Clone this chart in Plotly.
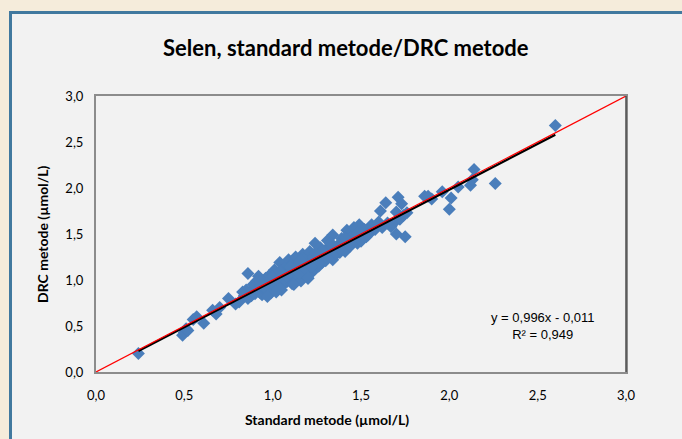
import plotly.graph_objects as go

# ---- data ----
standard = [
    0.24, 0.49, 0.50, 0.51, 0.52, 0.55, 0.57, 0.61, 0.66, 0.70, 0.68, 0.75, 0.79, 0.81,
    0.83, 0.85, 0.86, 0.88, 0.90, 0.92, 0.93, 0.84, 0.86, 0.88,
    0.87, 0.89, 0.90, 0.91, 0.92, 0.93, 0.94, 0.95, 0.95, 0.96, 0.97, 0.97, 0.98, 0.98,
    0.99, 1.00, 1.00, 1.01, 1.01, 1.02, 1.02, 1.03, 1.03, 1.04, 1.04, 1.05, 1.05, 1.06,
    1.06, 1.07, 1.07, 1.08, 1.08, 1.09, 1.09, 1.10, 1.10, 1.11, 1.11, 1.12, 1.12, 1.13,
    1.13, 1.14, 1.14, 1.15, 1.15, 1.16, 1.16, 1.17, 1.17, 1.18, 1.18, 1.19, 1.19, 1.20,
    1.20, 1.21, 1.21, 1.22, 1.22, 1.23, 1.23, 1.24, 1.24, 1.25, 1.25, 1.26, 1.27, 1.27,
    1.28, 1.29, 1.30, 1.30, 1.31, 1.32, 1.33, 1.34, 1.34, 1.35, 1.36, 1.37, 1.38, 1.38,
    1.39, 1.40, 1.41, 1.42, 1.43, 1.44, 1.45, 1.46, 1.47, 1.48, 1.49, 1.50, 1.51, 1.52,
    1.53, 1.55, 1.56, 1.58, 1.60, 1.61, 1.62, 1.64, 1.65, 1.67, 1.68, 1.70, 1.70, 1.71,
    1.72, 1.73, 1.74, 1.75, 1.76, 1.86, 1.88, 1.90, 1.96, 2.00, 2.01, 2.05, 2.12, 2.13,
    2.14, 2.26, 2.60,
    1.05, 1.12, 0.97, 1.02, 1.20, 0.93, 0.99, 1.08, 1.15, 1.26, 1.31, 1.18, 1.36, 1.00,
    1.28, 1.33, 1.41, 1.45, 1.24, 1.10, 0.95, 1.04, 1.16, 1.22, 1.38, 1.50, 1.54, 1.48,
]
drc = [
    0.20, 0.40, 0.43, 0.47, 0.45, 0.57, 0.60, 0.53, 0.67, 0.70, 0.63, 0.80, 0.74, 0.76,
    0.87, 0.89, 1.07, 0.83, 0.92, 1.04, 0.86, 0.83, 0.80, 0.86,
    0.82, 0.95, 0.85, 0.99, 0.88, 0.94, 0.84, 0.97, 0.90, 1.02, 0.88, 0.95, 1.05, 0.92,
    0.86, 0.98, 1.08, 0.93, 1.11, 0.99, 1.03, 0.90, 1.06, 0.97, 1.19, 1.01, 1.10, 0.95,
    1.04, 1.13, 1.00, 1.07, 0.98, 1.15, 1.22, 1.02, 1.09, 1.18, 0.96, 1.05, 1.12, 1.00,
    1.25, 1.08, 1.16, 1.03, 1.20, 1.11, 0.99, 1.14, 1.28, 1.06, 1.19, 1.24, 1.10, 1.02,
    1.16, 1.31, 1.13, 1.20, 1.08, 1.25, 1.17, 1.40, 1.12, 1.22, 1.29, 1.15, 1.24, 1.35,
    1.19, 1.27, 1.21, 1.33, 1.43, 1.26, 1.30, 1.49, 1.22, 1.36, 1.28, 1.33, 1.40, 1.30,
    1.45, 1.36, 1.31, 1.54, 1.41, 1.37, 1.47, 1.57, 1.43, 1.40, 1.60, 1.50, 1.45, 1.55,
    1.47, 1.52, 1.60, 1.55, 1.63, 1.75, 1.57, 1.84, 1.62, 1.58, 1.61, 1.50, 1.74, 1.90,
    1.66, 1.83, 1.70, 1.47, 1.73, 1.91, 1.91, 1.88, 1.96, 1.77, 1.89, 2.01, 2.03, 2.09,
    2.20, 2.05, 2.68,
    0.89, 0.95, 0.82, 0.87, 1.02, 0.98, 1.01, 1.04, 1.07, 1.18, 1.24, 1.13, 1.29, 1.04,
    1.32, 1.40, 1.46, 1.39, 1.29, 1.14, 0.93, 1.09, 1.22, 1.15, 1.34, 1.42, 1.49, 1.52,
]

slope = 0.996
intercept = -0.011

tick_vals = [0.0, 0.5, 1.0, 1.5, 2.0, 2.5, 3.0]
tick_text = ["0,0", "0,5", "1,0", "1,5", "2,0", "2,5", "3,0"]

title_text = "Selen, standard metode/DRC metode"
x_title = "Standard metode (µmol/L)"
y_title = "DRC metode (µmol/L)"
eq_text = "y = 0,996x - 0,011<br>R² = 0,949"

x_min, x_max = min(standard), max(standard)

fig = go.Figure()

fig.add_trace(go.Scatter(
    x=standard, y=drc, mode="markers",
    marker=dict(symbol="diamond", size=10, color="#4A7EBB", line=dict(width=0)),
    hoverinfo="x+y", showlegend=False,
))
fig.add_trace(go.Scatter(
    x=[x_min, x_max], y=[slope * x_min + intercept, slope * x_max + intercept],
    mode="lines", line=dict(color="black", width=2.2), showlegend=False,
))
fig.add_trace(go.Scatter(
    x=[tick_vals[0], tick_vals[-1]], y=[tick_vals[0], tick_vals[-1]],
    mode="lines", line=dict(color="#FF0000", width=1.2), showlegend=False,
))

tickfont = dict(family="Lato", size=13, color="#000000")

fig.update_layout(
    width=682, height=439,
    margin=dict(l=96, r=56, t=96, b=67),
    paper_bgcolor="#F5ECDB",
    plot_bgcolor="#FFFFFF",
    xaxis=dict(range=[0, 3], tickvals=tick_vals, ticktext=tick_text, showgrid=False,
               zeroline=False, showline=True, linecolor="#8C8C8C", linewidth=2, mirror=True,
               ticks="outside", ticklen=10, tickcolor="rgba(0,0,0,0)", tickfont=tickfont),
    yaxis=dict(range=[0, 3], tickvals=tick_vals, ticktext=tick_text, showgrid=False,
               zeroline=False, showline=True, linecolor="#8C8C8C", linewidth=2, mirror=True,
               ticks="outside", ticklen=8, tickcolor="rgba(0,0,0,0)", tickfont=tickfont),
    shapes=[
        dict(type="rect", xref="paper", yref="paper", layer="below",
             x0=(10.5 - 96) / 530, x1=(700 - 96) / 530,
             y0=(372 - 460) / 276, y1=(372 - 12.5) / 276,
             fillcolor="#F2F2F2", line=dict(color="#41799F", width=3)),
        dict(type="line", xref="paper", yref="paper", x0=1, x1=1, y0=0, y1=1,
             line=dict(color="#4D4D4D", width=1.5)),
    ],
    annotations=[
        dict(text="<b>" + title_text + "</b>", xref="paper", yref="paper",
             x=(346 - 96) / 530, y=(372 - 48) / 276, showarrow=False,
             font=dict(family="Lato", size=22, color="#000000"), xanchor="center", yanchor="middle"),
        dict(text="<b>" + x_title + "</b>", xref="paper", yref="paper",
             x=(327 - 96) / 530, y=(372 - 419) / 276, showarrow=False,
             font=dict(family="Lato", size=14, color="#000000"), xanchor="center", yanchor="middle"),
        dict(text="<b>" + y_title + "</b>", xref="paper", yref="paper",
             x=(42 - 96) / 530, y=(372 - 235) / 276, showarrow=False, textangle=-90,
             font=dict(family="Lato", size=14, color="#000000"), xanchor="center", yanchor="middle"),
        dict(text=eq_text, xref="x", yref="y", x=2.53, y=0.495, showarrow=False,
             font=dict(family="Liberation Sans", size=13, color="#000000"),
             xanchor="center", yanchor="middle", align="center"),
    ],
)

fig.write_html("out.html")
